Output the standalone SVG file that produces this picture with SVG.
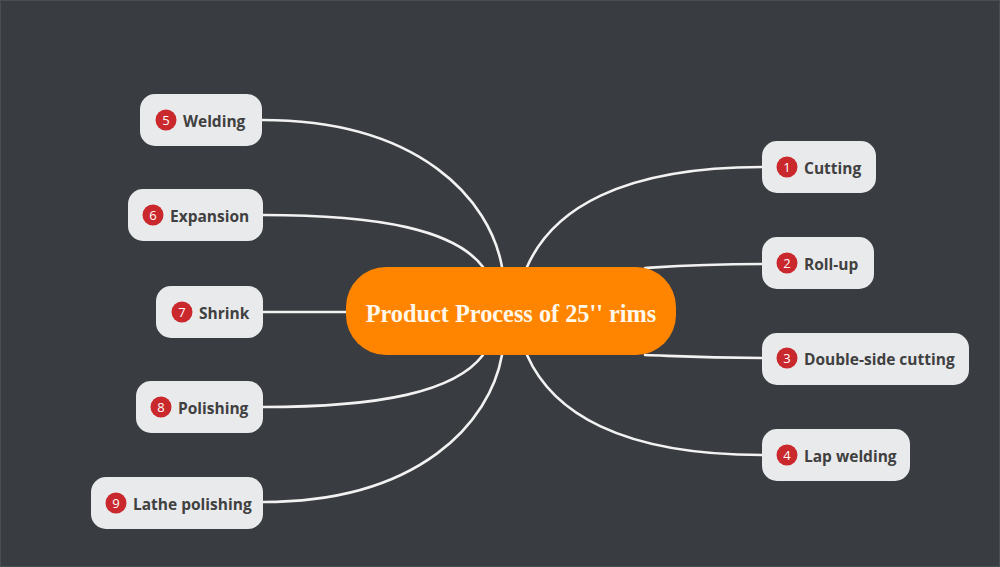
<svg xmlns="http://www.w3.org/2000/svg" width="1000" height="567" viewBox="0 0 1000 567">
<style>
.bg{fill:#393c40}
.link{fill:none;stroke:#f2f2f2;stroke-width:2.6;stroke-linecap:round}
.box{fill:#e9eaec}
.lbl{font-family:"Open Sans","Noto Sans",sans-serif;font-weight:bold;font-size:15.5px;fill:#404040}
.badge{fill:#c9282d}
.num{font-family:"Open Sans","Noto Sans",sans-serif;font-size:13px;fill:#ffffff;text-anchor:middle}
.center{fill:#ff8500}
.title{font-family:"Liberation Serif","Times New Roman",serif;font-weight:bold;font-size:24.3px;fill:#fff8ea;text-anchor:middle}
</style>
<rect class="bg" x="0" y="0" width="1000" height="567"/>
<rect x="0.5" y="0.5" width="999" height="566" fill="none" stroke="#4a4e54" stroke-width="1"/>
<g id="connectors">
<path class="link" d="M262,120 C420,120 490,200 502,267"/>
<path class="link" d="M263,215 C380,215 455,230 483,267"/>
<path class="link" d="M263,312 L346,312"/>
<path class="link" d="M263,407 C380,407 455,392 483,355"/>
<path class="link" d="M263,502 C420,502 490,422 502,355"/>
<path class="link" d="M762,167 C620,167 552,210 527,267"/>
<path class="link" d="M762,264 C700,264 675,266 645,268"/>
<path class="link" d="M762,358 C700,358 675,356 645,355"/>
<path class="link" d="M762,455 C620,455 552,412 527,355"/>
</g>
<g id="center">
<rect class="center" x="346" y="267" width="330" height="88" rx="40"/>
<text class="title" x="511" y="321.5">Product Process of 25'' rims</text>
</g>
<g id="n5">
<rect class="box" x="140" y="94" width="122" height="52" rx="15"/>
<circle class="badge" cx="166" cy="120" r="10.5"/>
<text class="num" x="166" y="124.8">5</text>
<text class="lbl" x="183" y="127">Welding</text>
</g>
<g id="n6">
<rect class="box" x="128" y="189" width="135" height="52" rx="15"/>
<circle class="badge" cx="153" cy="215" r="10.5"/>
<text class="num" x="153" y="219.8">6</text>
<text class="lbl" x="170" y="222">Expansion</text>
</g>
<g id="n7">
<rect class="box" x="156" y="286" width="107" height="52" rx="15"/>
<circle class="badge" cx="182" cy="312" r="10.5"/>
<text class="num" x="182" y="316.8">7</text>
<text class="lbl" x="199" y="319">Shrink</text>
</g>
<g id="n8">
<rect class="box" x="136" y="381" width="127" height="52" rx="15"/>
<circle class="badge" cx="161" cy="407" r="10.5"/>
<text class="num" x="161" y="411.8">8</text>
<text class="lbl" x="178" y="414">Polishing</text>
</g>
<g id="n9">
<rect class="box" x="91" y="477" width="172" height="52" rx="15"/>
<circle class="badge" cx="116" cy="503" r="10.5"/>
<text class="num" x="116" y="507.8">9</text>
<text class="lbl" x="133" y="510">Lathe polishing</text>
</g>
<g id="n1">
<rect class="box" x="762" y="141" width="114" height="52" rx="15"/>
<circle class="badge" cx="787" cy="167" r="10.5"/>
<text class="num" x="787" y="171.8">1</text>
<text class="lbl" x="804" y="174">Cutting</text>
</g>
<g id="n2">
<rect class="box" x="762" y="237" width="112" height="52" rx="15"/>
<circle class="badge" cx="787" cy="263" r="10.5"/>
<text class="num" x="787" y="267.8">2</text>
<text class="lbl" x="804" y="270">Roll-up</text>
</g>
<g id="n3">
<rect class="box" x="762" y="333" width="207" height="52" rx="15"/>
<circle class="badge" cx="787" cy="358" r="10.5"/>
<text class="num" x="787" y="362.8">3</text>
<text class="lbl" x="804" y="365">Double-side cutting</text>
</g>
<g id="n4">
<rect class="box" x="762" y="429" width="148" height="52" rx="15"/>
<circle class="badge" cx="787" cy="455" r="10.5"/>
<text class="num" x="787" y="459.8">4</text>
<text class="lbl" x="804" y="462">Lap welding</text>
</g>
</svg>
